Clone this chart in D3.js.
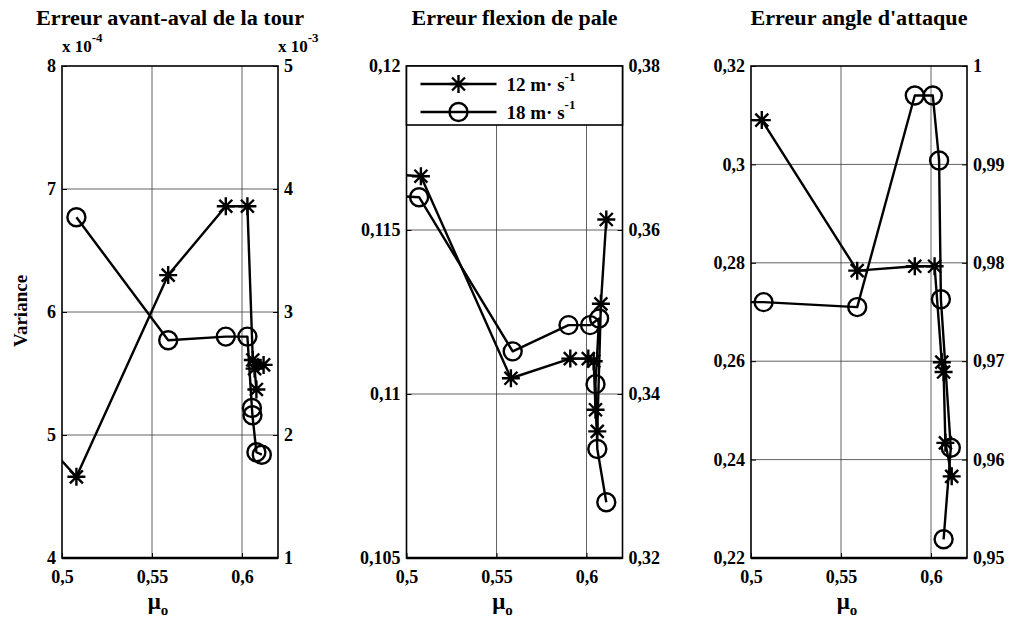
<!DOCTYPE html>
<meta charset="utf-8">
<script src="https://d3js.org/d3.v7.min.js"></script>
<style>
body { margin: 0; background: #fff; }
text { font-family: "Liberation Serif", "Times New Roman", serif; font-weight: bold; fill: #000; }
.grid line { stroke: #3a3a3a; stroke-width: 0.8; }
.line { fill: none; stroke: #000; stroke-width: 2.4; stroke-linejoin: round; }
.mark { fill: none; stroke: #000; stroke-width: 2.4; }
</style>
<body>
<script>
// panel titles and axis ranges
var titles = ['Erreur avant-aval de la tour', 'Erreur flexion de pale', "Erreur angle d'attaque"];
var leftDomains = [[4, 8], [0.105, 0.12], [0.22, 0.32]];
var rightDomains = [[1, 5], [0.32, 0.38], [0.95, 1]];
var leftTicks = [[4, 5, 6, 7, 8], [0.105, 0.11, 0.115, 0.12], [0.22, 0.24, 0.26, 0.28, 0.3, 0.32]];
var rightTicks = [[1, 2, 3, 4, 5], [0.32, 0.34, 0.36, 0.38], [0.95, 0.96, 0.97, 0.98, 0.99, 1]];
var muTicks = [0.5, 0.55, 0.6];
var muDomain = [0.5, 0.62];
var seriesNames = ['12 m\u00b7 s', '18 m\u00b7 s'];

// Erreur avant-aval de la tour : 12 m/s (x 10^-4, left axis), 18 m/s (x 10^-3, right axis)
var tourMu12 = [0.49, 0.508, 0.559, 0.591, 0.603, 0.606, 0.612, 0.607, 0.608];
var tourVar12 = [4.95, 4.66, 6.30, 6.86, 6.86, 5.61, 5.57, 5.54, 5.37];
var tourMu18 = [0.508, 0.559, 0.591, 0.603, 0.6055, 0.6058, 0.608, 0.611];
var tourVar18 = [3.77, 2.77, 2.80, 2.80, 2.22, 2.16, 1.86, 1.84];

// Erreur flexion de pale
var flexMu12 = [0.49, 0.508, 0.558, 0.591, 0.601, 0.604, 0.605, 0.606, 0.608, 0.611];
var flexVar12 = [0.1167, 0.11664, 0.11048, 0.11108, 0.11108, 0.1110, 0.10952, 0.10886, 0.11275, 0.11532];
var flexMu18 = [0.49, 0.507, 0.559, 0.590, 0.602, 0.607, 0.605, 0.606, 0.611];
var flexVar18 = [0.3642, 0.3640, 0.3452, 0.3484, 0.3484, 0.3492, 0.3412, 0.3333, 0.3268];

// Erreur angle d'attaque
var angleMu12 = [0.49, 0.506, 0.559, 0.591, 0.602, 0.606, 0.607, 0.608, 0.6115];
var angleVar12 = [0.309, 0.309, 0.2784, 0.2793, 0.2793, 0.2598, 0.2578, 0.2434, 0.2366];
var angleMu18 = [0.49, 0.507, 0.559, 0.591, 0.601, 0.6045, 0.6055, 0.611, 0.607];
var angleVar18 = [0.976, 0.976, 0.9755, 0.9970, 0.9970, 0.9904, 0.9763, 0.9612, 0.9519];

var mu12 = [tourMu12, flexMu12, angleMu12];
var var12 = [tourVar12, flexVar12, angleVar12];
var mu18 = [tourMu18, flexMu18, angleMu18];
var var18 = [tourVar18, flexVar18, angleVar18];

var W = 1021, H = 633;
var plotLeft = [62, 406.5, 751];
var plotW = 216, plotTop = 66, plotBottom = 558;

var fmt = d3.formatLocale({decimal: ',', thousands: ' ', grouping: [3], currency: ['', '']}).format('~g');

var svg = d3.select('body').append('svg')
    .attr('width', W)
    .attr('height', H);

// asterisk marker like matlab '*'
function starPath(r) {
    var k = r * 0.72;
    return 'M' + (-r) + ',0L' + r + ',0M0,' + (-r) + 'L0,' + r +
        'M' + (-k) + ',' + (-k) + 'L' + k + ',' + k + 'M' + (-k) + ',' + k + 'L' + k + ',' + (-k);
}

function drawMarker(g, kind, cx, cy) {
    if (kind == 'star') {
        g.append('path').attr('class', 'mark')
            .attr('transform', 'translate(' + cx + ',' + cy + ')')
            .attr('d', starPath(9));
    } else {
        g.append('circle').attr('class', 'mark')
            .attr('cx', cx).attr('cy', cy).attr('r', 9);
    }
}

for (var i = 0; i < 3; i++) {
    var x0 = plotLeft[i];
    var x = d3.scaleLinear().domain(muDomain).range([x0, x0 + plotW]);
    var yL = d3.scaleLinear().domain(leftDomains[i]).range([plotBottom, plotTop]);
    var yR = d3.scaleLinear().domain(rightDomains[i]).range([plotBottom, plotTop]);

    var g = svg.append('g');

    svg.append('clipPath').attr('id', 'clip' + i)
        .append('rect')
        .attr('x', x0).attr('y', plotTop)
        .attr('width', plotW).attr('height', plotBottom - plotTop);

    // grid
    var grid = g.append('g').attr('class', 'grid');
    grid.selectAll('.gx').data(muTicks.slice(1)).enter().append('line')
        .attr('x1', function(d) { return x(d); }).attr('x2', function(d) { return x(d); })
        .attr('y1', plotTop).attr('y2', plotBottom);
    grid.selectAll('.gy').data(leftTicks[i].slice(1, -1)).enter().append('line')
        .attr('x1', x0).attr('x2', x0 + plotW)
        .attr('y1', function(d) { return yL(d); }).attr('y2', function(d) { return yL(d); });

    // axes
    var axL = g.append('g').attr('transform', 'translate(' + x0 + ',0)')
        .call(d3.axisLeft(yL).tickValues(leftTicks[i]).tickFormat(fmt).tickSizeInner(-5).tickSizeOuter(0).tickPadding(6));
    var axR = g.append('g').attr('transform', 'translate(' + (x0 + plotW) + ',0)')
        .call(d3.axisRight(yR).tickValues(rightTicks[i]).tickFormat(fmt).tickSizeInner(-5).tickSizeOuter(0).tickPadding(6));
    var axB = g.append('g').attr('transform', 'translate(0,' + plotBottom + ')')
        .call(d3.axisBottom(x).tickValues(muTicks).tickFormat(fmt).tickSizeInner(-5).tickSizeOuter(0).tickPadding(12));
    [axL, axR, axB].forEach(function(a) {
        a.attr('font-size', null).attr('font-family', null);
        a.select('.domain').remove();
        a.selectAll('text').style('font-size', '18px');
        a.selectAll('.tick line').attr('stroke', '#000');
    });

    // box
    g.append('rect')
        .attr('x', x0).attr('y', plotTop)
        .attr('width', plotW).attr('height', plotBottom - plotTop)
        .attr('fill', 'none').attr('stroke', '#000').attr('stroke-width', 1.6);
    g.append('line')
        .attr('x1', x0).attr('x2', x0 + plotW)
        .attr('y1', plotBottom).attr('y2', plotBottom)
        .attr('stroke', '#000').attr('stroke-width', 2.6);

    // series
    var data = g.append('g').attr('clip-path', 'url(#clip' + i + ')');
    var sets = [
        {mu: mu12[i], v: var12[i], y: yL, kind: 'star'},
        {mu: mu18[i], v: var18[i], y: yR, kind: 'circle'}
    ];
    sets.forEach(function(s) {
        var pts = s.mu.map(function(m, j) { return [x(m), s.y(s.v[j])]; });
        data.append('path').attr('class', 'line').attr('d', d3.line()(pts));
        pts.forEach(function(p) { drawMarker(data, s.kind, p[0], p[1]); });
    });

    // title
    g.append('text')
        .attr('x', x0 + plotW / 2).attr('y', 25)
        .attr('text-anchor', 'middle')
        .attr('textLength', [268, 206, 217][i])
        .attr('lengthAdjust', 'spacingAndGlyphs')
        .style('font-size', '20px')
        .text(titles[i]);

    // mu_o label
    var xl = g.append('text')
        .attr('x', x0 + plotW / 2 - 12).attr('y', 609)
        .attr('text-anchor', 'middle')
        .style('font-size', '23px')
        .text('\u03bc');
    xl.append('tspan').attr('dy', 6).style('font-size', '15px').text('o');
}

// exponent labels of the first panel
var expo = [[plotLeft[0], '-4'], [plotLeft[0] + plotW, '-3']];
expo.forEach(function(e) {
    var t = svg.append('text').attr('x', e[0]).attr('y', 52).style('font-size', '17px').text('x 10');
    t.append('tspan').attr('dy', -10).style('font-size', '13px').text(e[1]);
});

svg.append('text')
    .attr('transform', 'translate(27,311) rotate(-90)')
    .attr('text-anchor', 'middle')
    .style('font-size', '19px')
    .style('fill', '#000')
    .style('opacity', 0.999)
    .text('Variance');

// legend in the middle panel
var lx = plotLeft[1];
var legend = svg.append('g');
legend.append('rect')
    .attr('x', lx).attr('y', plotTop)
    .attr('width', plotW).attr('height', 59)
    .attr('fill', '#fff').attr('stroke', '#000').attr('stroke-width', 1.6);
['star', 'circle'].forEach(function(kind, j) {
    var ly = 84 + j * 28;
    legend.append('line')
        .attr('x1', lx + 14).attr('x2', lx + 90)
        .attr('y1', ly).attr('y2', ly)
        .attr('stroke', '#000').attr('stroke-width', 2.4);
    drawMarker(legend, kind, lx + 52, ly);
    var t = legend.append('text')
        .attr('x', lx + 100).attr('y', ly + 7)
        .style('font-size', '19px')
        .text(seriesNames[j]);
    t.append('tspan').attr('dy', -10).style('font-size', '13px').text('-1');
});
</script>
</body>
</html>
